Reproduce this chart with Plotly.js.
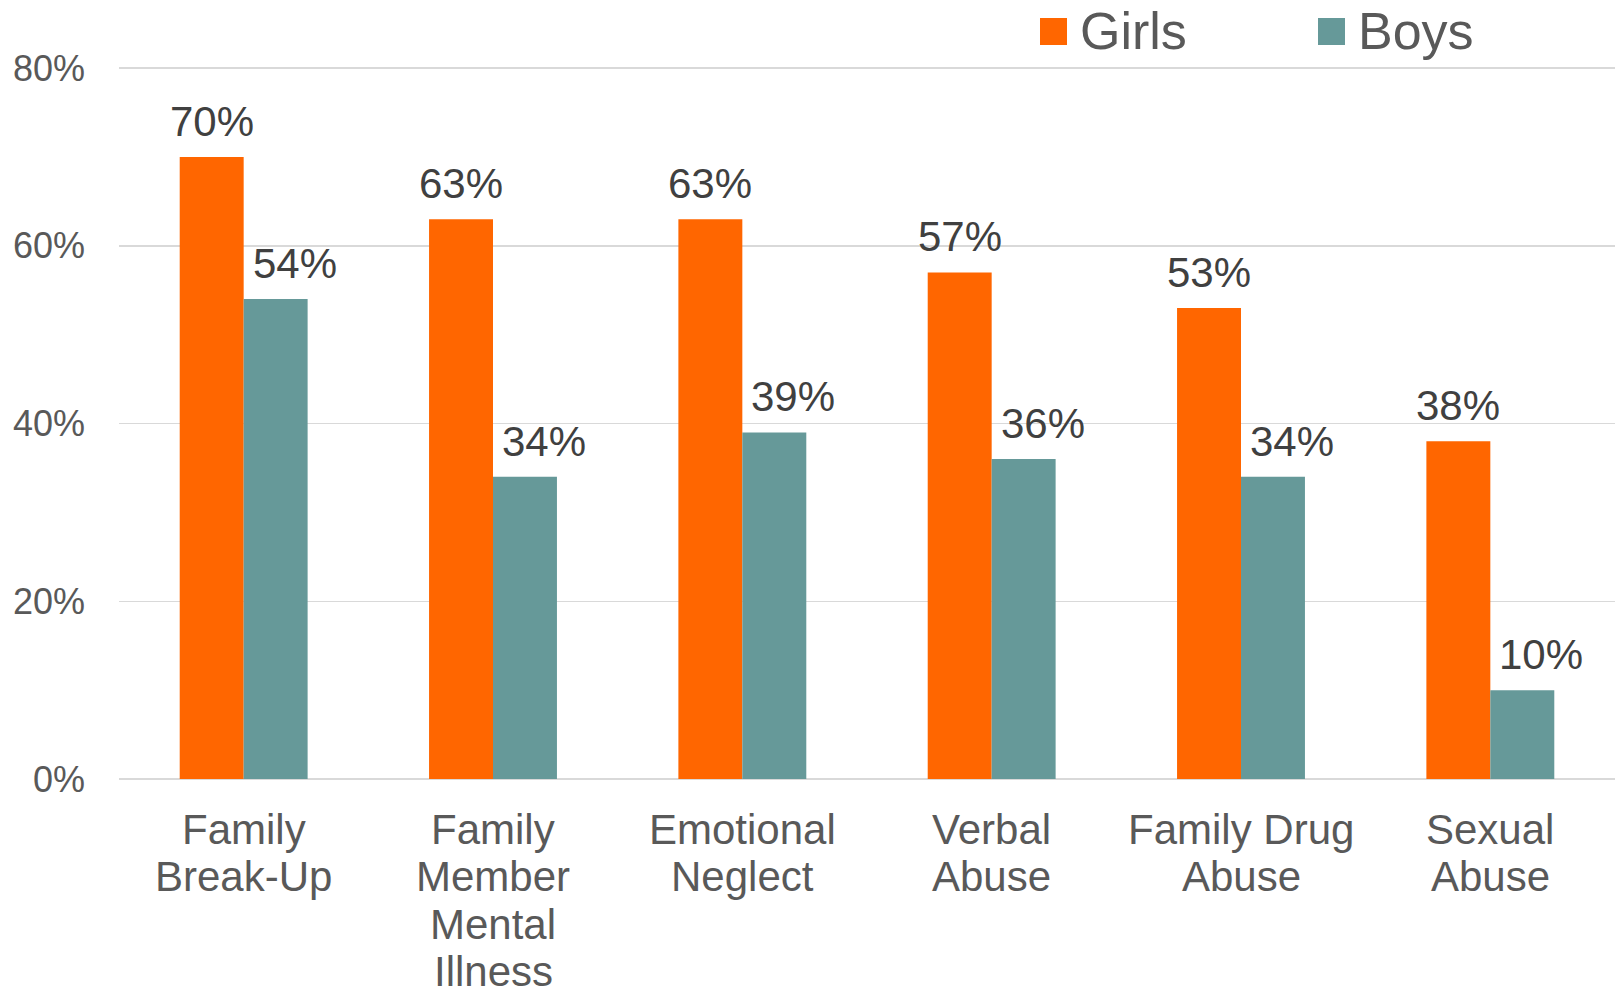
<!DOCTYPE html>
<html>
<head>
<meta charset="utf-8">
<script src="https://cdn.plot.ly/plotly-3.0.1.min.js"></script>
<style>
  html, body { margin: 0; padding: 0; background: #ffffff; }
  #chart { width: 1615px; height: 995px; }
</style>
</head>
<body>
<div id="chart"></div>
<script>
// ---- data ----
var categories = [
  "Family<br>Break-Up",
  "Family<br>Member<br>Mental<br>Illness",
  "Emotional<br>Neglect",
  "Verbal<br>Abuse",
  "Family Drug<br>Abuse",
  "Sexual<br>Abuse"
];
var seriesNames = ["Girls", "Boys"];
var girls = [0.70, 0.63, 0.63, 0.57, 0.53, 0.38];
var boys  = [0.54, 0.34, 0.39, 0.36, 0.34, 0.10];
var yTickValues = [0, 0.2, 0.4, 0.6, 0.8];

// ---- styles ----
var colors = ["#FF6600", "#669999"];
var FONT = "Liberation Sans, Arial, sans-serif";
var TICK_COLOR = "#595959";
var LABEL_COLOR = "#404040";

var plotLeft = 119, plotRight = 0, plotTop = 67, plotBottom = 216;
var W = 1615, H = 995;
var plotW = W - plotLeft - plotRight, plotH = H - plotTop - plotBottom;

var traces = [girls, boys].map(function (vals, i) {
  return {
    type: "bar",
    name: seriesNames[i],
    x: categories,
    y: vals,
    marker: { color: colors[i], line: { width: 0 } },
    showlegend: false,
    hoverinfo: "x+y"
  };
});

var annotations = [];
var xShifts = [-32, 51];
[girls, boys].forEach(function (vals, s) {
  vals.forEach(function (v, i) {
    annotations.push({
      x: categories[i], y: v, xref: "x", yref: "y",
      text: Math.round(v * 100) + "%",
      showarrow: false,
      xanchor: "center", yanchor: "bottom",
      xshift: xShifts[s], yshift: 10,
      font: { family: FONT, size: 42, color: LABEL_COLOR }
    });
  });
});

// category labels: one annotation per line (tighter line spacing than tick labels allow)
var catLineGap = 47.3, catFirstOffset = 26;
categories.forEach(function (cat) {
  cat.split("<br>").forEach(function (line, j) {
    annotations.push({
      x: cat, y: 0, xref: "x", yref: "y",
      text: line, showarrow: false,
      xanchor: "center", yanchor: "top",
      borderpad: 0,
      yshift: -(catFirstOffset + j * catLineGap),
      font: { family: FONT, size: 42, color: TICK_COLOR }
    });
  });
});

// custom legend (large square markers)
var shapes = [];
var legendX = [1040, 1318];
var legendTop = 18, legendBot = 45;
seriesNames.forEach(function (name, i) {
  var x0 = (legendX[i] - plotLeft) / plotW;
  var x1 = (legendX[i] + 27 - plotLeft) / plotW;
  var y0 = (H - plotBottom - legendBot) / plotH;
  var y1 = (H - plotBottom - legendTop) / plotH;
  shapes.push({
    type: "rect", xref: "paper", yref: "paper",
    x0: x0, x1: x1, y0: y0, y1: y1,
    fillcolor: colors[i], line: { width: 0 }
  });
  annotations.push({
    xref: "paper", yref: "paper",
    x: (legendX[i] + 38 - plotLeft) / plotW,
    y: (y0 + y1) / 2,
    xanchor: "left", yanchor: "middle",
    text: name, showarrow: false,
    font: { family: FONT, size: 52, color: TICK_COLOR }
  });
});

var layout = {
  width: W, height: H,
  margin: { l: plotLeft, r: plotRight, t: plotTop, b: plotBottom, pad: 0 },
  paper_bgcolor: "#ffffff",
  plot_bgcolor: "#ffffff",
  barmode: "group",
  bargap: 0.487,
  bargroupgap: 0,
  showlegend: false,
  font: { family: FONT, color: TICK_COLOR },
  xaxis: {
    type: "category",
    showgrid: false,
    showline: false,
    ticks: "",
    zeroline: false,
    showticklabels: false,
    fixedrange: true
  },
  yaxis: {
    range: [0, 0.8012],
    tickvals: yTickValues,
    tickformat: ".0%",
    showgrid: true,
    gridcolor: "#d9d9d9",
    gridwidth: 1.5,
    zeroline: true,
    zerolinecolor: "#d9d9d9",
    zerolinewidth: 1.5,
    showline: false,
    ticks: "",
    tickfont: { family: FONT, size: 36, color: TICK_COLOR },
    ticklabelstandoff: 33,
    fixedrange: true
  },
  shapes: shapes,
  annotations: annotations
};

Plotly.newPlot("chart", traces, layout, { displayModeBar: false, staticPlot: true });
</script>
</body>
</html>
